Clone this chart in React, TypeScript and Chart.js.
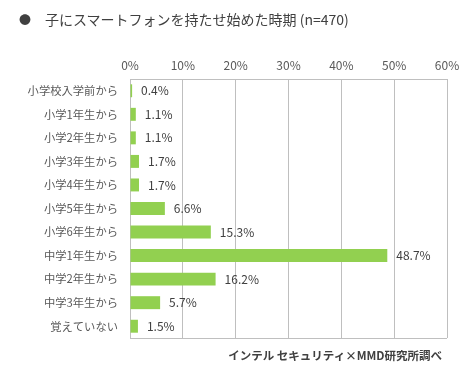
import React, { useEffect, useRef } from "react";
import { Chart, registerables } from "chart.js";

Chart.register(...registerables);

const categories = [
  "小学校入学前から",
  "小学1年生から",
  "小学2年生から",
  "小学3年生から",
  "小学4年生から",
  "小学5年生から",
  "小学6年生から",
  "中学1年生から",
  "中学2年生から",
  "中学3年生から",
  "覚えていない",
];
const values = [0.4, 1.1, 1.1, 1.7, 1.7, 6.6, 15.3, 48.7, 16.2, 5.7, 1.5];
const titleText = "子にスマートフォンを持たせ始めた時期 (n=470)";
const sourceText = "インテル セキュリティ×MMD研究所調べ";

const FONT = "'Noto Sans CJK JP', 'Noto Sans', sans-serif";

export default function App() {
  const ref = useRef<HTMLCanvasElement | null>(null);

  useEffect(() => {
    document.body.style.margin = "0";
    const canvas = ref.current;
    if (!canvas) return;

    const labelPlugin = {
      id: "valueLabels",
      afterDatasetsDraw(chart: any) {
        const ctx = chart.ctx;
        const meta = chart.getDatasetMeta(0);
        ctx.save();
        ctx.font = `12px ${FONT}`;
        ctx.fillStyle = "#404040";
        ctx.textAlign = "left";
        ctx.textBaseline = "middle";
        meta.data.forEach((bar: any, i: number) => {
          ctx.fillText(values[i].toFixed(1) + "%", bar.x + 9, bar.y);
        });
        ctx.restore();
      },
    };

    const boxPlugin = {
      id: "boxBorder",
      afterDraw(chart: any) {
        const { ctx, chartArea } = chart;
        ctx.save();
        ctx.strokeStyle = "#bfbfbf";
        ctx.lineWidth = 1;
        ctx.beginPath();
        ctx.moveTo(chartArea.left, Math.round(chartArea.bottom) + 0.5);
        ctx.lineTo(chartArea.right, Math.round(chartArea.bottom) + 0.5);
        ctx.stroke();
        ctx.restore();
      },
    };

    const chart = new Chart(canvas, {
      type: "bar",
      data: {
        labels: categories,
        datasets: [
          {
            data: values,
            backgroundColor: "#92D050",
            borderWidth: 0,
            barPercentage: 0.55,
            categoryPercentage: 1,
          },
        ],
      },
      options: {
        indexAxis: "y",
        animation: false,
        responsive: false,
        layout: { padding: { left: 0, right: 22, top: 0, bottom: 32 } },
        plugins: {
          legend: { display: false },
          tooltip: { enabled: false },
        },
        scales: {
          x: {
            position: "top",
            min: 0,
            max: 60,
            afterFit: (s: any) => {
              s.height = 79;
            },
            ticks: {
              stepSize: 10,
              padding: 6,
              color: "#595959",
              font: { family: FONT, size: 12 },
              callback: (v: any) => v + "%",
            },
            grid: {
              color: "#bfbfbf",
              drawTicks: false,
              lineWidth: 1,
            },
            border: { display: true, color: "#bfbfbf" },
          },
          y: {
            afterFit: (s: any) => {
              s.width = 130;
            },
            ticks: {
              padding: 12,
              color: "#595959",
              font: { family: FONT, size: 11.3 },
            },
            grid: { display: false, drawTicks: false },
            border: { display: true, color: "#bfbfbf" },
          },
        },
      },
      plugins: [labelPlugin, boxPlugin],
    });

    return () => chart.destroy();
  }, []);

  return (
    <div
      style={{
        position: "relative",
        width: 469,
        height: 370,
        background: "#ffffff",
        fontFamily: FONT,
      }}
    >
      <canvas ref={ref} width={469} height={370} style={{ position: "absolute", left: 0, top: 0 }} />
      <div
        style={{
          position: "absolute",
          left: 19,
          top: 9,
          fontSize: 14,
          lineHeight: "20px",
          color: "#404040",
          whiteSpace: "nowrap",
        }}
      >
        <span style={{ display: "inline-block", width: 26, fontSize: 12 }}>●</span>
        {titleText}
      </div>
      <div
        style={{
          position: "absolute",
          right: 27,
          top: 347,
          fontSize: 11.5,
          lineHeight: "16px",
          fontWeight: "bold",
          color: "#404040",
          whiteSpace: "nowrap",
        }}
      >
        {sourceText}
      </div>
    </div>
  );
}
